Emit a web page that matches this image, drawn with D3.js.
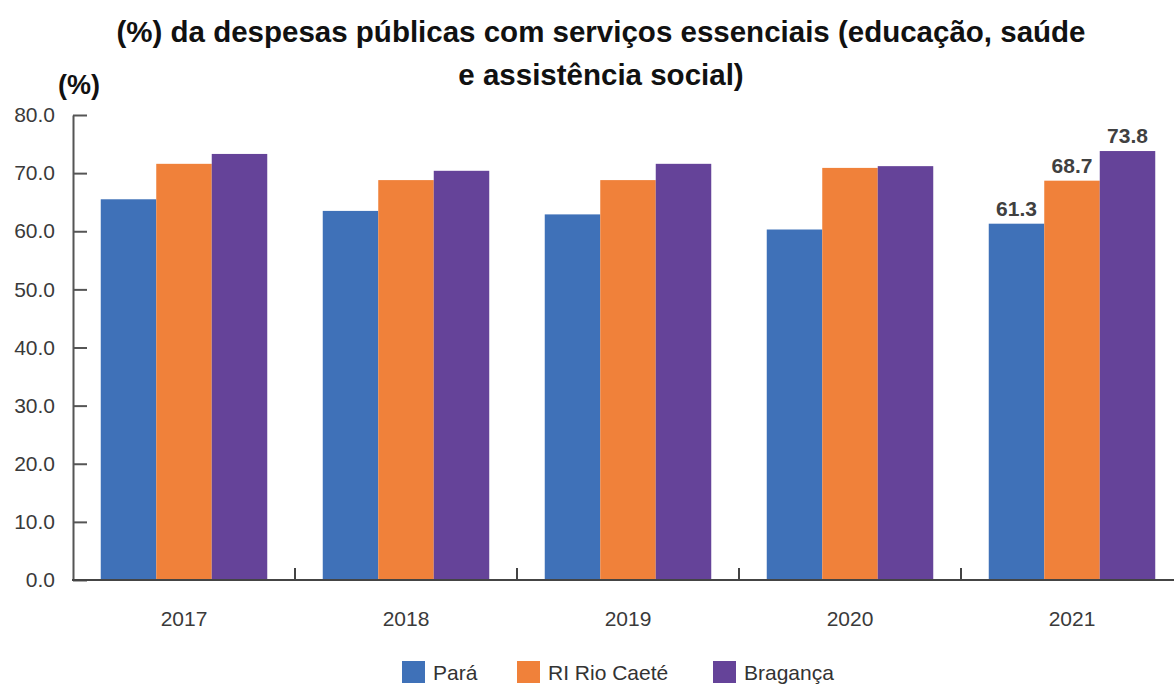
<!DOCTYPE html>
<html>
<head>
<meta charset="utf-8">
<script src="https://cdn.jsdelivr.net/npm/d3@7"></script>
<style>
  html, body { margin: 0; padding: 0; background: #fff; }
  svg { display: block; font-family: "Liberation Sans", Arial, sans-serif; }
</style>
</head>
<body>
<svg id="chart" width="1174" height="686"></svg>
<script>
const years = ["2017", "2018", "2019", "2020", "2021"];
const seriesNames = ["Pará", "RI Rio Caeté", "Bragança"];
const para = [65.5, 63.5, 62.9, 60.3, 61.3];
const riRioCaete = [71.6, 68.8, 68.8, 70.9, 68.7];
const braganca = [73.3, 70.4, 71.6, 71.2, 73.8];
const yTicks = [0, 10, 20, 30, 40, 50, 60, 70, 80];
const labelledYear = "2021";
const titleLines = ["(%) da despesas públicas com serviços essenciais (educação, saúde", "e assistência social)"];
const colors = ["#3F71B8", "#F0813A", "#654399"];

const seriesValues = [para, riRioCaete, braganca];

const svg = d3.select("#chart");

const x = d3.scaleBand().domain(years).range([73, 1183]).paddingInner(0).paddingOuter(0);
const xs = d3.scaleBand().domain(seriesNames).range([0, x.bandwidth()]).paddingInner(0).paddingOuter(0.5);
const y = d3.scaleLinear().domain([0, 80]).range([580, 115]);
const color = d3.scaleOrdinal().domain(seriesNames).range(colors);

// Title
svg.append("g").selectAll("text").data(titleLines).join("text")
  .attr("x", 601)
  .attr("y", (d, i) => 42 + i * 43)
  .attr("text-anchor", "middle")
  .attr("font-size", 29.5)
  .attr("font-weight", "bold")
  .attr("fill", "#111")
  .text(d => d);

// unit label
svg.append("text")
  .attr("x", 79).attr("y", 94)
  .attr("text-anchor", "middle")
  .attr("font-size", 27).attr("font-weight", "bold").attr("fill", "#111")
  .text("(%)");

// Bars
const data = [];
years.forEach((yr, i) => seriesNames.forEach((s, j) => data.push({ year: yr, series: s, value: seriesValues[j][i] })));

svg.append("g").selectAll("rect").data(data).join("rect")
  .attr("x", d => x(d.year) + xs(d.series))
  .attr("y", d => y(d.value))
  .attr("width", xs.bandwidth())
  .attr("height", d => y(0) - y(d.value))
  .attr("fill", d => color(d.series));

// Value labels for last year
svg.append("g").selectAll("text").data(data.filter(d => d.year === labelledYear)).join("text")
  .attr("x", d => x(d.year) + xs(d.series) + xs.bandwidth() / 2)
  .attr("y", d => y(d.value) - 8)
  .attr("text-anchor", "middle")
  .attr("font-size", 21).attr("font-weight", "bold").attr("fill", "#404040")
  .text(d => d.value.toFixed(1));

// Y axis
const yAxis = svg.append("g").attr("transform", "translate(73,0)")
  .call(d3.axisLeft(y).tickValues(yTicks).tickFormat(d3.format(".1f")).tickSize(-14).tickSizeOuter(0).tickPadding(18));
yAxis.select(".domain").attr("stroke", "#555").attr("stroke-width", 2);
yAxis.selectAll(".tick line").attr("stroke", "#555").attr("stroke-width", 2);
yAxis.selectAll(".tick text").attr("font-size", 21).attr("fill", "#3a3a3a").attr("font-family", "Liberation Sans, Arial, sans-serif");

// X axis
const xAxis = svg.append("g").attr("transform", "translate(0,580)")
  .call(d3.axisBottom(x).tickSize(0).tickPadding(31));
xAxis.select(".domain").remove();
xAxis.selectAll(".tick text").attr("font-size", 21).attr("fill", "#3a3a3a").attr("font-family", "Liberation Sans, Arial, sans-serif");
svg.append("line").attr("x1", 72).attr("x2", 1174).attr("y1", y(0)).attr("y2", y(0))
  .attr("stroke", "#444").attr("stroke-width", 2);
svg.append("g").selectAll("line").data(years.slice(1)).join("line")
  .attr("x1", d => x(d)).attr("x2", d => x(d))
  .attr("y1", y(0)).attr("y2", y(0) - 12)
  .attr("stroke", "#444").attr("stroke-width", 2);

// Legend
const legendX = [402, 517, 713];
const lg = svg.append("g").selectAll("g").data(seriesNames).join("g")
  .attr("transform", (d, i) => `translate(${legendX[i]},661)`);
lg.append("rect").attr("width", 23).attr("height", 22).attr("fill", d => color(d));
lg.append("text").attr("x", 31).attr("y", 19).attr("font-size", 21).attr("fill", "#333").text(d => d);
</script>
</body>
</html>
